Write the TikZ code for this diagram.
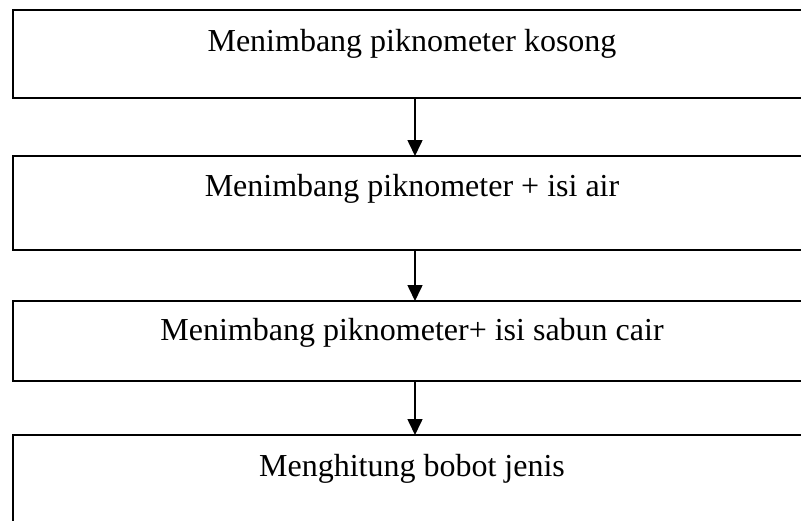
\documentclass[tikz,border=0pt]{standalone}
\usepackage{fontspec}
\setmainfont{Liberation Serif}
\usetikzlibrary{arrows.meta}
\begin{document}
\begin{tikzpicture}[x=1pt,y=1pt,
  stepbox/.style={draw=black,line width=1.6pt,rectangle,inner sep=0pt,outer sep=0pt,minimum width=798pt},
  label/.style={font=\fontsize{32}{38}\selectfont,anchor=base,inner sep=0pt},
  flow/.style={line width=1.6pt,-{Triangle[length=16pt,width=15pt]}}]
\useasboundingbox (0,0) rectangle (801,-520);
\clip (0,0) rectangle (801,-520);
\node[stepbox,minimum height=88pt] (b1) at (412,-54) {};
\node[stepbox,minimum height=94pt] (b2) at (412,-203) {};
\node[stepbox,minimum height=80pt] (b3) at (412,-341) {};
\node[stepbox,minimum height=95pt] (b4) at (412,-482.5) {};
\node[label] (t1) at (412,-51) {Menimbang piknometer kosong};
\node[label] (t2) at (412,-196) {Menimbang piknometer + isi air};
\node[label] (t3) at (412,-340) {Menimbang piknometer+ isi sabun cair};
\node[label] (t4) at (412,-476) {Menghitung bobot jenis};
\draw[flow] ([xshift=3pt]b1.south) -- ([xshift=3pt]b2.north);
\draw[flow] ([xshift=3pt]b2.south) -- ([xshift=3pt]b3.north);
\draw[flow] ([xshift=3pt]b3.south) -- ([xshift=3pt]b4.north);
\end{tikzpicture}
\end{document}
